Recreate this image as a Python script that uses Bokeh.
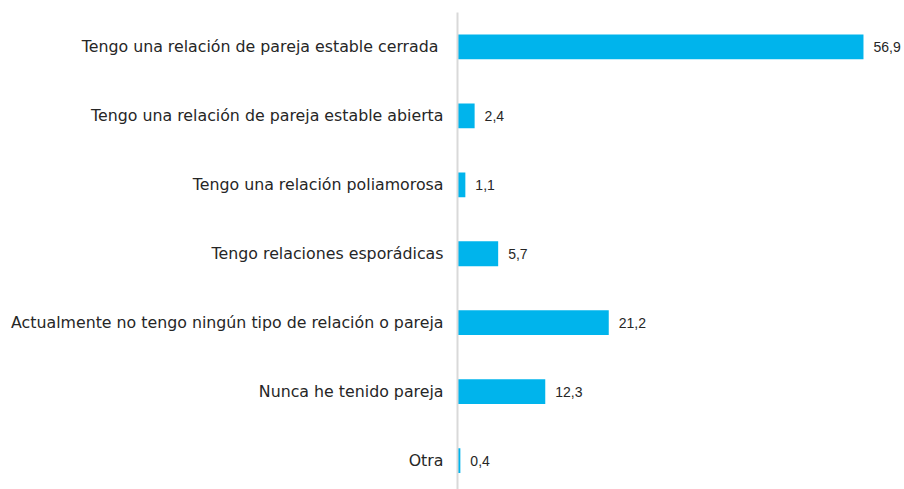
from bokeh.plotting import figure
from bokeh.models import ColumnDataSource, Range1d, LinearAxis, FixedTicker, LabelSet
from bokeh.core.properties import value
from bokeh.embed import file_html
from bokeh.resources import INLINE

categories = [
    "Tengo una relación de pareja estable cerrada ",
    "Tengo una relación de pareja estable abierta",
    "Tengo una relación poliamorosa",
    "Tengo relaciones esporádicas",
    "Actualmente no tengo ningún tipo de relación o pareja",
    "Nunca he tenido pareja",
    "Otra",
]
values = [56.9, 2.4, 1.1, 5.7, 21.2, 12.3, 0.4]
value_labels = ["56,9", "2,4", "1,1", "5,7", "21,2", "12,3", "0,4"]

pos = list(range(len(categories)))
src = ColumnDataSource(dict(y=pos, v=values, lab=value_labels))

p = figure(width=904, height=489, output_backend="svg", toolbar_location=None,
           x_range=Range1d(0, 62.65), y_range=Range1d(6.42, -0.5),
           x_axis_location=None, y_axis_location=None,
           min_border_left=457, min_border_right=0, min_border_top=12, min_border_bottom=0)
p.outline_line_color = None
p.grid.visible = False
p.background_fill_color = "white"
p.border_fill_color = "white"

p.hbar(y="y", right="v", left=0, height=0.36, source=src, color="#00B4EC", line_color=None)

ax = LinearAxis(ticker=FixedTicker(ticks=pos),
                major_label_overrides={i: c for i, c in enumerate(categories)})
ax.axis_line_color = "#D9D9D9"
ax.axis_line_width = 2
ax.major_tick_line_color = None
ax.minor_tick_line_color = None
ax.major_label_standoff = 8
ax.major_label_text_font = "DejaVu Sans"
ax.major_label_text_font_size = "15.8px"
ax.major_label_text_color = "#262626"
p.add_layout(ax, "left")

labels = LabelSet(x="v", y="y", text="lab", source=src, x_offset=10,
                  text_align="left", text_baseline="middle",
                  text_font=value("Liberation Sans"), text_font_size=value("14px"),
                  text_color="#262626")
p.add_layout(labels)

open("out.html", "w").write(file_html(p, INLINE))
